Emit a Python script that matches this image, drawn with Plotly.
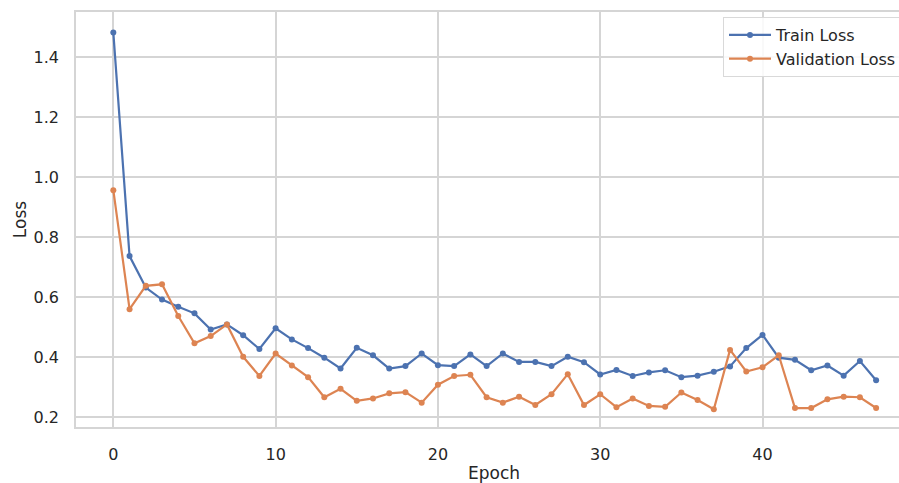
import plotly.graph_objects as go

# Per-epoch losses
epochs = list(range(48))
train_loss = [
    1.483, 0.737, 0.632, 0.592, 0.568, 0.546, 0.492, 0.509, 0.473, 0.427,
    0.496, 0.459, 0.430, 0.398, 0.362, 0.431, 0.406, 0.362, 0.370, 0.412,
    0.373, 0.370, 0.409, 0.370, 0.412, 0.384, 0.384, 0.370, 0.401, 0.383,
    0.342, 0.357, 0.337, 0.349, 0.356, 0.333, 0.338, 0.351, 0.369, 0.430,
    0.474, 0.398, 0.391, 0.356, 0.372, 0.338, 0.387, 0.323,
]
val_loss = [
    0.957, 0.560, 0.638, 0.643, 0.537, 0.446, 0.470, 0.509, 0.401, 0.337,
    0.412, 0.372, 0.333, 0.266, 0.294, 0.254, 0.262, 0.279, 0.283, 0.248,
    0.308, 0.337, 0.341, 0.266, 0.248, 0.268, 0.240, 0.276, 0.343, 0.240,
    0.276, 0.233, 0.262, 0.237, 0.234, 0.282, 0.257, 0.226, 0.424, 0.352,
    0.366, 0.406, 0.230, 0.230, 0.259, 0.268, 0.266, 0.230,
]
x_ticks = [0, 10, 20, 30, 40]
y_ticks = [0.2, 0.4, 0.6, 0.8, 1.0, 1.2, 1.4]

BLUE = "#4c72b0"
ORANGE = "#dd8452"
GRID = "#d5d5d5"
TEXT = "#262626"
FONT = "DejaVu Sans"

# plot-area geometry in pixels
PLOT_L, PLOT_W = 76, 823
PLOT_T, PLOT_B = 12, 427
PLOT_H = PLOT_B - PLOT_T

fig = go.Figure()
fig.add_trace(go.Scatter(
    x=epochs, y=train_loss, mode="lines+markers", name="Train Loss",
    line=dict(color=BLUE, width=2.2), marker=dict(size=6, color=BLUE),
))
fig.add_trace(go.Scatter(
    x=epochs, y=val_loss, mode="lines+markers", name="Validation Loss",
    line=dict(color=ORANGE, width=2.2), marker=dict(size=6, color=ORANGE),
))

fig.update_layout(
    width=899, height=483,
    margin=dict(l=PLOT_L, r=0, t=PLOT_T, b=483 - PLOT_B, autoexpand=False),
    paper_bgcolor="white", plot_bgcolor="white",
    font=dict(family=FONT, size=16, color=TEXT),
    showlegend=True,
    legend=dict(
        x=(723 - PLOT_L) / PLOT_W, y=(PLOT_B - 17) / PLOT_H,
        xanchor="left", yanchor="top", itemwidth=42,
        bgcolor="rgba(255,255,255,0.85)", bordercolor="#d9d9d9", borderwidth=1,
        font=dict(family=FONT, size=16, color=TEXT),
    ),
    annotations=[dict(
        text="Epoch", x=(494 - PLOT_L) / PLOT_W, xref="paper",
        y=(PLOT_B - 473) / PLOT_H, yref="paper",
        xanchor="center", yanchor="middle", showarrow=False,
        font=dict(family=FONT, size=17, color=TEXT),
    )],
)

fig.update_xaxes(
    range=[-2.30, 48.41], tickvals=x_ticks, ticktext=[str(t) for t in x_ticks],
    showgrid=True, gridcolor=GRID, gridwidth=1.5, zeroline=False,
    showline=True, linecolor=GRID, linewidth=1.5, mirror=True,
    ticks="outside", ticklen=12, tickcolor="rgba(0,0,0,0)",
    tickfont=dict(family=FONT, size=16, color=TEXT),
)
fig.update_yaxes(
    range=[0.1667, 1.5517], tickvals=y_ticks, ticktext=[f"{t:.1f}" for t in y_ticks],
    showgrid=True, gridcolor=GRID, gridwidth=1.5, zeroline=False,
    showline=True, linecolor=GRID, linewidth=1.5, mirror=True,
    ticks="outside", ticklen=12, tickcolor="rgba(0,0,0,0)",
    tickfont=dict(family=FONT, size=16, color=TEXT),
    title=dict(text="Loss", font=dict(family=FONT, size=17, color=TEXT), standoff=3),
)

fig.write_html("out.html")
